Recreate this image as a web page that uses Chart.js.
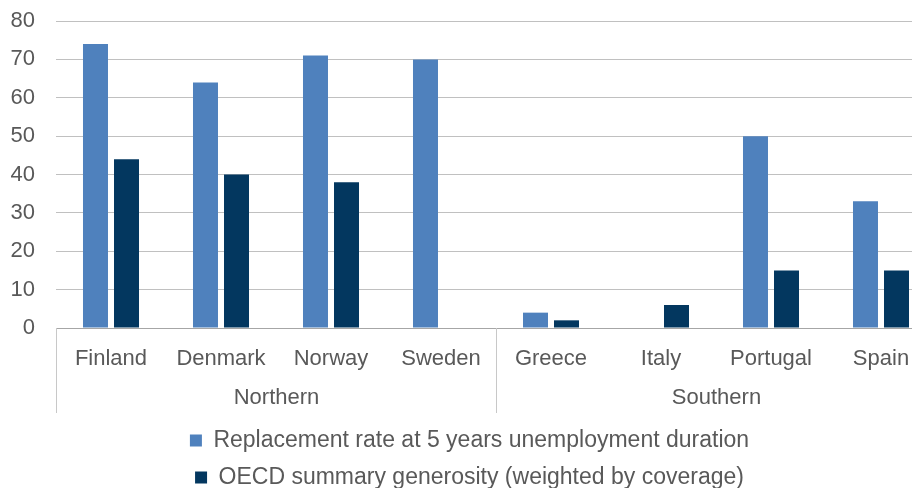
<!DOCTYPE html>
<html>
<head>
<meta charset="utf-8">
<script src="https://cdn.jsdelivr.net/npm/chart.js@4/dist/chart.umd.min.js"></script>
<style>
  html, body { margin: 0; padding: 0; background: #fff; overflow: hidden; }
  #wrap { width: 940px; height: 488px; }
</style>
</head>
<body>
<div id="wrap"><canvas id="chart" width="940" height="488"></canvas></div>
<script>
const countries = ["Finland", "Denmark", "Norway", "Sweden", "Greece", "Italy", "Portugal", "Spain"];
const regions = ["Northern", "Southern"];
const regionSize = [4, 4];
const replacementRate = [74, 64, 71, 70, 4, null, 50, 33];
const oecdGenerosity = [44, 40, 38, null, 2, 6, 15, 15];
const yTicks = [0, 10, 20, 30, 40, 50, 60, 70, 80];

const textColor = "#595959";
const fontFamily = "'Liberation Sans', Arial, sans-serif";
const font = { family: fontFamily, size: 22 };
const legendFont = { family: fontFamily, size: 23 };

// group labels + separator lines under the category axis
const groupAxis = {
    id: "groupAxis",
    afterDraw(chart) {
        const x = chart.scales.x;
        const ctx = chart.ctx;
        const half = (x.getPixelForValue(1) - x.getPixelForValue(0)) / 2;
        const top = chart.chartArea.bottom;
        const bottom = top + 85;
        ctx.save();
        ctx.strokeStyle = "#c8c8c8";
        ctx.lineWidth = 1;
        ctx.fillStyle = textColor;
        ctx.font = font.size + "px " + font.family;
        ctx.textAlign = "center";
        ctx.textBaseline = "middle";
        let start = 0;
        regions.forEach((name, i) => {
            const end = start + regionSize[i] - 1;
            const left = Math.round(x.getPixelForValue(start) - half) + 0.5;
            const right = Math.round(x.getPixelForValue(end) + half) + 0.5;
            ctx.beginPath();
            ctx.moveTo(left, top);
            ctx.lineTo(left, bottom);
            ctx.moveTo(right, top);
            ctx.lineTo(right, bottom);
            ctx.stroke();
            ctx.fillText(name, (left + right) / 2, top + 70);
            start = end + 1;
        });
        ctx.restore();
    }
};

new Chart(document.getElementById("chart"), {
    type: "bar",
    data: {
        labels: countries,
        datasets: [
            {
                label: "Replacement rate at 5 years unemployment duration",
                data: replacementRate,
                backgroundColor: "#4f81bd",
            },
            {
                label: "OECD summary generosity (weighted by coverage)",
                data: oecdGenerosity,
                backgroundColor: "#03375f",
            }
        ]
    },
    options: {
        responsive: false,
        animation: false,
        layout: { padding: { top: 21, left: 3, right: 4, bottom: -11 } },
        categoryPercentage: 0.564,
        barPercentage: 0.806,
        scales: {
            x: {
                grid: { display: false },
                border: { color: "#a6a6a6", width: 1 },
                ticks: { color: textColor, font: font, padding: 10, maxRotation: 0, autoSkip: false },
                afterFit(scale) { scale.height = 87; }
            },
            y: {
                min: 0,
                max: 80,
                afterBuildTicks(scale) { scale.ticks = yTicks.map(v => ({ value: v })); },
                afterFit(scale) {
                    scale.width = 53;
                    scale.paddingTop = 0;
                    scale.paddingBottom = 0;
                },
                grid: { color: "#c0c0c0", drawTicks: false },
                border: { display: false },
                ticks: { color: textColor, font: font, padding: 21 }
            }
        },
        plugins: {
            tooltip: { enabled: false },
            legend: {
                position: "bottom",
                labels: {
                    color: textColor,
                    font: legendFont,
                    boxWidth: 12,
                    boxHeight: 12,
                    padding: 14
                }
            }
        }
    },
    plugins: [groupAxis]
});
</script>
</body>
</html>
